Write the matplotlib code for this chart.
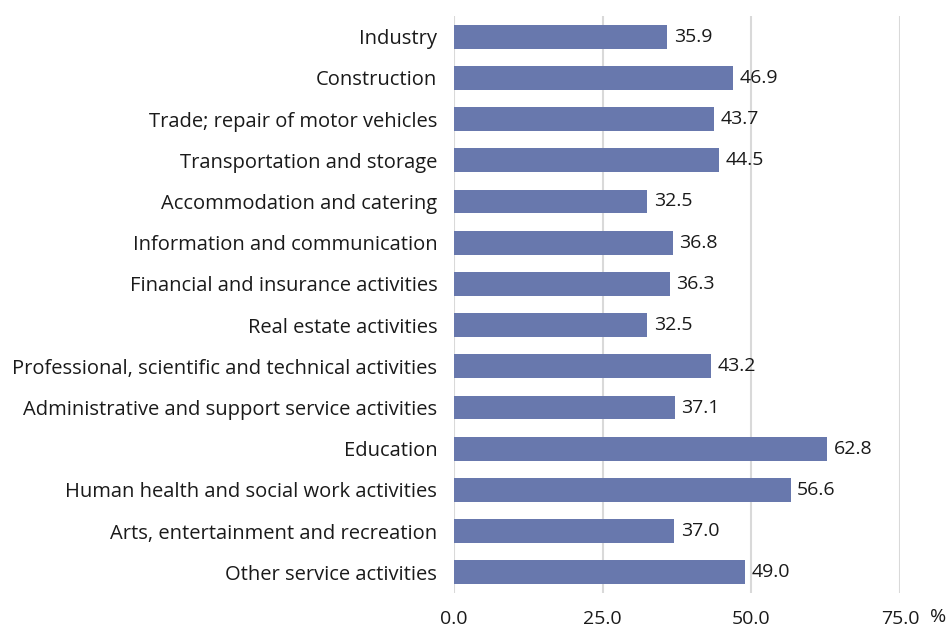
import matplotlib
matplotlib.use("Agg")
import matplotlib.pyplot as plt

plt.rcParams["font.family"] = ["Open Sans", "DejaVu Sans"]

categories = [
    "Industry",
    "Construction",
    "Trade; repair of motor vehicles",
    "Transportation and storage",
    "Accommodation and catering",
    "Information and communication",
    "Financial and insurance activities",
    "Real estate activities",
    "Professional, scientific and technical activities",
    "Administrative and support service activities",
    "Education",
    "Human health and social work activities",
    "Arts, entertainment and recreation",
    "Other service activities",
]
values = [35.9, 46.9, 43.7, 44.5, 32.5, 36.8, 36.3, 32.5, 43.2, 37.1, 62.8, 56.6, 37.0, 49.0]
x_ticks = [0, 25, 50, 75]

bar_color = "#6878ad"
fs = 14

fig = plt.figure(figsize=(9.51, 6.26), dpi=100)
ax = fig.add_axes([454 / 951, 1 - 593 / 626, (900 - 454) / 951, (593 - 16) / 626])

ypos = list(range(len(categories)))
ax.barh(ypos, values, height=0.58, color=bar_color, zorder=3)
for y, v in zip(ypos, values):
    ax.text(v + 1.1, y, f"{v:.1f}", va="center", ha="left", fontsize=fs, color="#1a1a1a")

ax.set_ylim(len(categories) - 0.5, -0.5)
ax.set_yticks(ypos)
ax.set_yticklabels(categories, fontsize=14.5, color="#1a1a1a", va="center_baseline")
ax.set_xlim(0, 75)
ax.set_xticks(x_ticks)
ax.set_xticklabels([f"{t:.1f}" for t in x_ticks], fontsize=fs, color="#1a1a1a")
ax.tick_params(length=0, pad=12, axis="x")
ax.tick_params(length=0, pad=12, axis="y")
ax.grid(axis="x", color="#d9d9d9", linewidth=1.5, zorder=0)
for s in ax.spines.values():
    s.set_visible(False)
# unit label sits on the tick-label line, right of the axis
ax.annotate("%", xy=(1, 0), xycoords="axes fraction", xytext=(38, -15),
            textcoords="offset pixels", ha="center", va="top",
            fontsize=fs, color="#1a1a1a", annotation_clip=False)

fig.savefig("out.png", dpi=100)
